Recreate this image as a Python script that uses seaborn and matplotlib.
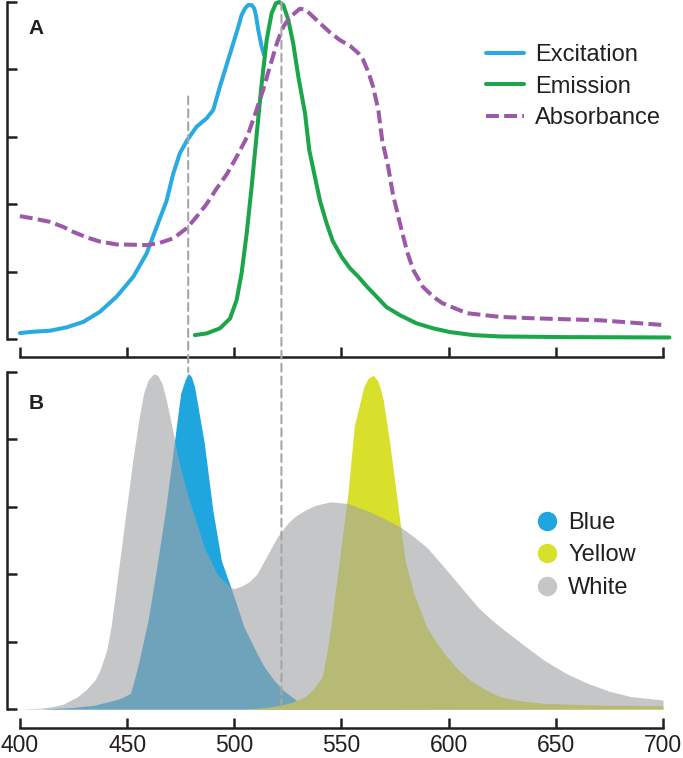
import numpy as np
import pandas as pd
import matplotlib
matplotlib.use("Agg")
import matplotlib.pyplot as plt
import seaborn as sns
from matplotlib.lines import Line2D
from matplotlib.patches import ConnectionPatch

# panel A spectra (normalised)
ex_nm = [400, 406.2, 414, 421.8, 429.5, 437.3, 445.1, 452.9, 459.1, 463.8, 468.4, 471.5, 474.6,
         478, 482.4, 487.1, 490.2, 493.3, 496.4, 499.5, 501.9, 503.4, 505, 506.5, 508.1, 509.3,
         510.1, 511.2, 512.8, 513.9]
ex_val = [0.018, 0.022, 0.025, 0.035, 0.051, 0.081, 0.126, 0.185, 0.254, 0.333, 0.41, 0.49,
          0.551, 0.59, 0.63, 0.655, 0.68, 0.749, 0.813, 0.877, 0.927, 0.961, 0.981, 0.991,
          0.991, 0.981, 0.961, 0.917, 0.867, 0.843]

em_nm = [481.6, 487.1, 493.3, 498, 501.1, 503.4, 505.8, 508.1, 510.5, 512.8, 515.1, 517.4,
         519.4, 521, 522.9, 525.2, 527.5, 529.9, 533, 535, 537.6, 540, 543.1, 546, 550.1, 554,
         557.9, 562, 566.4, 571, 577.3, 585, 592.8, 600.6, 611.5, 624, 655, 703]
em_val = [0.012, 0.017, 0.032, 0.061, 0.116, 0.195, 0.314, 0.452, 0.61, 0.759, 0.887, 0.966,
          0.996, 1.0, 0.991, 0.947, 0.877, 0.778, 0.67, 0.56, 0.482, 0.41, 0.343, 0.29, 0.244,
          0.21, 0.185, 0.155, 0.126, 0.095, 0.071, 0.047, 0.032, 0.021, 0.012, 0.008, 0.006,
          0.005]

ab_nm = [400, 406.2, 414, 420.2, 425, 431.1, 437, 445.1, 453, 459.1, 465, 471.5, 478, 482.4,
         487, 491.8, 496.6, 501.1, 506, 509.6, 513.5, 516.6, 520, 522.9, 526, 530.6, 533, 535,
         540, 544.6, 549.3, 554, 557.9, 560, 562.5, 564.7, 567.2, 569, 571.8, 574, 577.3,
         580.6, 583.5, 588, 592.8, 597, 608.5, 624, 639, 670.6, 700]
ab_val = [0.365, 0.358, 0.348, 0.333, 0.318, 0.302, 0.29, 0.281, 0.28, 0.279, 0.285, 0.299,
          0.33, 0.363, 0.40, 0.447, 0.49, 0.541, 0.60, 0.665, 0.74, 0.808, 0.88, 0.927, 0.955,
          0.98, 0.978, 0.967, 0.937, 0.91, 0.887, 0.87, 0.848, 0.83, 0.793, 0.75, 0.68, 0.59,
          0.511, 0.43, 0.343, 0.26, 0.205, 0.155, 0.126, 0.107, 0.077, 0.066, 0.062, 0.056,
          0.042]

# panel B LED spectra
wh_nm = [400, 410, 415, 420, 427, 431, 435, 437.4, 440.5, 442.5, 444.5, 446.6, 448.6, 452.7,
         455.7, 457.7, 459.8, 462.2, 464.2, 466.3, 468.3, 470.9, 474, 478, 482, 486, 492,
         498.4, 500, 503.4, 507, 510.5, 516.6, 520, 524.8, 528, 533, 538, 545, 553, 563.4,
         570, 577.6, 584, 589.8, 596, 602, 608, 614, 620, 626, 635, 644.5, 655, 665, 675, 685,
         700]
wh_val = [0, 0.003, 0.007, 0.014, 0.037, 0.058, 0.086, 0.116, 0.175, 0.244, 0.34, 0.442, 0.54,
          0.74, 0.867, 0.937, 0.976, 0.994, 0.991, 0.966, 0.917, 0.838, 0.74, 0.64, 0.56, 0.48,
          0.40, 0.36, 0.358, 0.365, 0.378, 0.40, 0.47, 0.51, 0.55, 0.57, 0.59, 0.605, 0.615,
          0.61, 0.585, 0.565, 0.54, 0.51, 0.48, 0.435, 0.39, 0.345, 0.30, 0.265, 0.234, 0.19,
          0.145, 0.105, 0.076, 0.053, 0.037, 0.027]

bl_nm = [410, 425, 435, 440, 445, 448, 451.6, 453.5, 455.7, 459.8, 463.8, 467.9, 472, 475, 476,
         477, 478.5, 480, 481.5, 482, 486, 490, 494, 499.4, 504.5, 510.6, 514, 518.5, 523,
         528.8, 535, 543, 560, 700]
bl_val = [0, 0.005, 0.012, 0.02, 0.028, 0.035, 0.047, 0.09, 0.146, 0.264, 0.42, 0.59, 0.79,
          0.937, 0.956, 0.976, 0.996, 0.986, 0.956, 0.937, 0.79, 0.59, 0.44, 0.343, 0.244,
          0.165, 0.125, 0.086, 0.055, 0.027, 0.014, 0.007, 0.002, 0]

ye_nm = [505, 515, 520, 527, 533, 537, 541, 543, 545, 548, 551, 553, 556, 560.4, 562.4, 564.7,
         566.8, 568.4, 569.5, 572.5, 576.6, 579.7, 583.7, 589.8, 594, 598, 604, 610, 617, 624,
         634, 644.5, 670, 700]
ye_val = [0, 0.005, 0.01, 0.02, 0.037, 0.06, 0.096, 0.16, 0.244, 0.39, 0.54, 0.64, 0.84, 0.956,
          0.981, 0.99, 0.976, 0.946, 0.917, 0.79, 0.59, 0.44, 0.343, 0.244, 0.2, 0.165, 0.12,
          0.086, 0.058, 0.037, 0.024, 0.017, 0.012, 0.01]

# dashed guide lines: wavelength, top (panel A value), bottom (panel B value)
guide_nm = [478.5, 522]
guide_top = [0.72, 1.0]
guide_bot = [1.0, 0.01]

x_ticks = [400, 450, 500, 550, 600, 650, 700]
y_ticks = [0, 0.2, 0.4, 0.6, 0.8, 1.0]

sns.set_theme(style="ticks")
plt.rcParams['font.family'] = ['Liberation Sans', 'DejaVu Sans']
plt.rcParams['text.color'] = '#231f20'

fig = plt.figure(figsize=(6.83, 7.58), dpi=100)
axA = fig.add_axes([0.0103, 0.529, 0.973, 0.471])
axB = fig.add_axes([0.0103, 0.0396, 0.973, 0.4776])

c_ex, c_em, c_ab = '#29abe2', '#1ca64b', '#9b59a8'

sns.lineplot(x=ex_nm, y=ex_val, ax=axA, color=c_ex, lw=2.9, label='Excitation', sort=False,
             clip_on=False)
sns.lineplot(x=em_nm, y=em_val, ax=axA, color=c_em, lw=2.9, label='Emission', sort=False,
             clip_on=False)
sns.lineplot(x=ab_nm, y=ab_val, ax=axA, color=c_ab, lw=2.9, label='Absorbance', sort=False,
             linestyle=(0, (3.2, 1.3)), clip_on=False)

c_bl, c_ye, c_wh = '#20a6df', '#d9e02b', '#a1a2a5'
axB.fill_between(bl_nm, bl_val, color=c_bl, lw=0)
axB.fill_between(ye_nm, ye_val, color=c_ye, lw=0)
axB.fill_between(wh_nm, wh_val, color=c_wh, alpha=0.61, lw=0)

for ax, ylim in [(axA, (-0.053, 1.006)), (axB, (-0.056, 1.018))]:
    ax.set_xlim(394, 704)
    ax.set_ylim(*ylim)
    ax.set_xticks(x_ticks)
    ax.set_yticks(y_ticks)
    ax.set_yticklabels([])
    sns.despine(ax=ax)
    ax.spines['left'].set_bounds(0, 1)
    ax.spines['bottom'].set_bounds(400, 700)
    for s in ['left', 'bottom']:
        ax.spines[s].set_linewidth(1.8)
        ax.spines[s].set_color('#231f20')
    ax.tick_params(direction='in', length=7.5, width=1.8, color='#231f20',
                   labelsize=16.5, pad=4.5, labelcolor='#231f20')
    ax.set_facecolor('none')

axA.tick_params(axis='x', labelbottom=False)

axA.text(0.032, 0.905, 'A', transform=axA.transAxes, fontsize=15, fontweight='bold',
         color='#231f20')
axB.text(0.032, 0.88, 'B', transform=axB.transAxes, fontsize=15, fontweight='bold',
         color='#231f20')

axA.legend(loc='upper left', bbox_to_anchor=(0.7207, 0.876), frameon=False, fontsize=17,
           handlelength=1.6, handletextpad=0.47, labelspacing=0.4, borderpad=0,
           borderaxespad=0)

handles = [Line2D([], [], marker='o', ls='none', ms=14, mec='none', mfc=c_bl),
           Line2D([], [], marker='o', ls='none', ms=14, mec='none', mfc=c_ye),
           Line2D([], [], marker='o', ls='none', ms=14, mec='none', mfc='#c5c6c8')]
axB.legend(handles, ['Blue', 'Yellow', 'White'], loc='upper left',
           bbox_to_anchor=(0.7944, 0.597), frameon=False, fontsize=17, handlelength=1.0,
           handletextpad=0.4, labelspacing=0.45, borderpad=0, borderaxespad=0)

for x, t, b in zip(guide_nm, guide_top, guide_bot):
    con = ConnectionPatch(xyA=(x, t), coordsA=axA.transData, xyB=(x, b),
                          coordsB=axB.transData, color='#a6a6a6', lw=1.5,
                          linestyle=(0, (3.8, 2.4)))
    fig.add_artist(con)

fig.savefig('out.png', dpi=100)
